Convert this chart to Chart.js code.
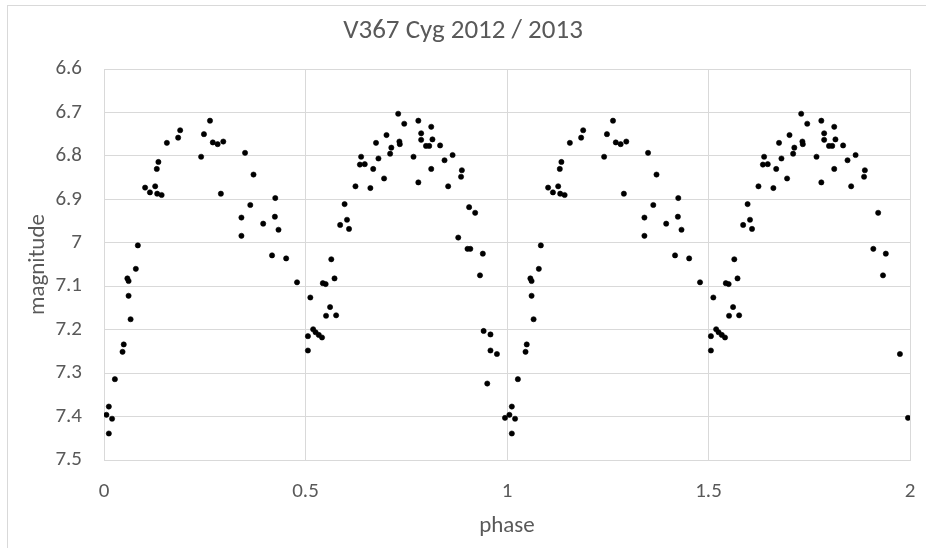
<!DOCTYPE html>
<html lang="en">
<head>
    <meta charset="UTF-8">
    <title>V367 Cyg 2012 / 2013</title>
    <script src="https://cdn.jsdelivr.net/npm/chart.js"></script>
    <style>
        html, body { margin: 0; padding: 0; background: #fff; }
        canvas { display: block; }
    </style>
</head>
<body>
    <canvas id="lightCurve" width="926" height="548"></canvas>
    <script>
        // first cycle, phase 0 .. 1
        const phaseA = [
            0.263, 0.189, 0.184, 0.248, 0.156, 0.270, 0.282, 0.296, 0.241, 0.350,
            0.135, 0.131, 0.371, 0.102, 0.114, 0.127, 0.132, 0.143, 0.290, 0.425,
            0.363, 0.341, 0.424, 0.395, 0.433, 0.341, 0.084, 0.417, 0.452, 0.079,
            0.058, 0.061, 0.061, 0.066, 0.479, 0.049, 0.046, 0.027, 0.012, 0.006,
            0.020, 0.012,
            0.730, 0.745, 0.780, 0.812, 0.787, 0.787, 0.815, 0.799, 0.807, 0.834,
            0.701, 0.733, 0.734, 0.675, 0.713, 0.710, 0.638, 0.681, 0.768, 0.865,
            0.845, 0.635, 0.647, 0.668, 0.812, 0.888, 0.695, 0.780, 0.886, 0.624,
            0.661, 0.854, 0.597, 0.906, 0.921, 0.603, 0.586, 0.608, 0.879, 0.902,
            0.909, 0.940, 0.933, 0.564, 0.543, 0.550, 0.572, 0.512, 0.561, 0.551,
            0.576, 0.506, 0.519, 0.525, 0.533, 0.541, 0.506, 0.942, 0.959, 0.959,
            0.975, 0.951, 0.995
        ];
        const magA = [
            6.719, 6.741, 6.758, 6.750, 6.770, 6.769, 6.773, 6.767, 6.802, 6.793,
            6.814, 6.830, 6.843, 6.873, 6.884, 6.870, 6.887, 6.890, 6.887, 6.897,
            6.913, 6.942, 6.940, 6.956, 6.970, 6.984, 7.006, 7.029, 7.036, 7.060,
            7.082, 7.088, 7.122, 7.176, 7.091, 7.234, 7.251, 7.314, 7.377, 7.396,
            7.405, 7.439,
            6.703, 6.726, 6.719, 6.733, 6.748, 6.763, 6.762, 6.777, 6.777, 6.776,
            6.752, 6.767, 6.773, 6.770, 6.781, 6.795, 6.802, 6.806, 6.802, 6.798,
            6.810, 6.820, 6.819, 6.830, 6.830, 6.833, 6.852, 6.861, 6.848, 6.870,
            6.874, 6.870, 6.911, 6.918, 6.931, 6.947, 6.959, 6.968, 6.988, 7.014,
            7.014, 7.025, 7.075, 7.038, 7.093, 7.095, 7.082, 7.126, 7.148, 7.168,
            7.167, 7.215, 7.199, 7.206, 7.212, 7.218, 7.248, 7.203, 7.211, 7.248,
            7.256, 7.324, 7.403
        ];

        // second cycle, phase 1 .. 2
        const phaseB = [
            1.263, 1.189, 1.184, 1.248, 1.156, 1.270, 1.282, 1.296, 1.241, 1.350,
            1.135, 1.131, 1.371, 1.102, 1.114, 1.127, 1.132, 1.143, 1.290, 1.425,
            1.363, 1.341, 1.424, 1.395, 1.433, 1.341, 1.084, 1.417, 1.452, 1.079,
            1.058, 1.061, 1.061, 1.066, 1.479, 1.049, 1.046, 1.027, 1.012, 1.006,
            1.020, 1.012,
            1.730, 1.745, 1.780, 1.812, 1.787, 1.787, 1.815, 1.799, 1.807, 1.834,
            1.701, 1.733, 1.734, 1.675, 1.713, 1.710, 1.638, 1.681, 1.768, 1.865,
            1.845, 1.635, 1.647, 1.668, 1.812, 1.888, 1.695, 1.780, 1.886, 1.624,
            1.661, 1.854, 1.597, 1.921, 1.603, 1.586, 1.608, 1.909, 1.940, 1.933,
            1.564, 1.543, 1.550, 1.572, 1.512, 1.561, 1.551, 1.576, 1.506, 1.519,
            1.525, 1.533, 1.541, 1.506, 1.975, 1.995
        ];
        const magB = [
            6.719, 6.741, 6.758, 6.750, 6.770, 6.769, 6.773, 6.767, 6.802, 6.793,
            6.814, 6.830, 6.843, 6.873, 6.884, 6.870, 6.887, 6.890, 6.887, 6.897,
            6.913, 6.942, 6.940, 6.956, 6.970, 6.984, 7.006, 7.029, 7.036, 7.060,
            7.082, 7.088, 7.122, 7.176, 7.091, 7.234, 7.251, 7.314, 7.377, 7.396,
            7.405, 7.439,
            6.703, 6.726, 6.719, 6.733, 6.748, 6.763, 6.762, 6.777, 6.777, 6.776,
            6.752, 6.767, 6.773, 6.770, 6.781, 6.795, 6.802, 6.806, 6.802, 6.798,
            6.810, 6.820, 6.819, 6.830, 6.830, 6.833, 6.852, 6.861, 6.848, 6.870,
            6.874, 6.870, 6.911, 6.931, 6.947, 6.959, 6.968, 7.014, 7.025, 7.075,
            7.038, 7.093, 7.095, 7.082, 7.126, 7.148, 7.168, 7.167, 7.215, 7.199,
            7.206, 7.212, 7.218, 7.248, 7.256, 7.403
        ];

        const phaseTicks = [0, 0.5, 1, 1.5, 2];
        const magTicks = [6.6, 6.7, 6.8, 6.9, 7.0, 7.1, 7.2, 7.3, 7.4, 7.5];

        const FONT = 'Carlito, "Liberation Sans Narrow", "Open Sans", sans-serif';
        const GREY = '#595959';
        const GRID = '#d9d9d9';

        const toPoints = (xs, ys) => xs.map((x, i) => ({ x: x, y: ys[i] }));

        // thin frame around the whole chart
        const chartFrame = {
            id: 'chartFrame',
            beforeDraw(chart) {
                const ctx = chart.ctx;
                ctx.save();
                ctx.fillStyle = '#fff';
                ctx.fillRect(0, 0, chart.width, chart.height);
                ctx.strokeStyle = GRID;
                ctx.lineWidth = 1;
                ctx.strokeRect(7.5, 5.5, chart.width + 20, chart.height + 20);
                ctx.restore();
            }
        };

        const dotStyle = {
            showLine: false,
            pointRadius: 2.6,
            pointBorderWidth: 0.6,
            pointBackgroundColor: '#000',
            pointBorderColor: '#000'
        };

        new Chart(document.getElementById('lightCurve'), {
            type: 'scatter',
            data: {
                datasets: [
                    Object.assign({ label: 'cycle 1', data: toPoints(phaseA, magA) }, dotStyle),
                    Object.assign({ label: 'cycle 2', data: toPoints(phaseB, magB) }, dotStyle)
                ]
            },
            options: {
                responsive: false,
                animation: false,
                devicePixelRatio: 1,
                layout: { padding: { top: 0, left: 16, right: 16, bottom: 0 } },
                plugins: {
                    legend: { display: false },
                    tooltip: { enabled: false },
                    title: {
                        display: true,
                        text: 'V367 Cyg 2012 / 2013',
                        color: GREY,
                        font: { family: FONT, size: 27, weight: 'normal' },
                        padding: { top: 15, bottom: 21.6 }
                    }
                },
                scales: {
                    x: {
                        type: 'linear',
                        min: 0,
                        max: 2,
                        afterBuildTicks: s => { s.ticks = phaseTicks.map(v => ({ value: v })); },
                        afterFit: s => {
                            s.height = 88;
                            // end labels sit inside the side margins already
                            s.paddingLeft = 0;
                            s.paddingRight = 0;
                        },
                        grid: { color: GRID, drawTicks: false },
                        border: { color: GRID },
                        ticks: {
                            color: GREY,
                            padding: 19,
                            font: { family: FONT, size: 21 },
                            callback: v => String(v)
                        },
                        title: {
                            display: true,
                            text: 'phase',
                            color: GREY,
                            font: { family: FONT, size: 23 },
                            padding: { top: 0, bottom: 8 }
                        }
                    },
                    y: {
                        type: 'linear',
                        reverse: true,
                        min: 6.6,
                        max: 7.5,
                        afterBuildTicks: s => { s.ticks = magTicks.map(v => ({ value: v })); },
                        afterFit: s => { s.width = 88; },
                        grid: { color: GRID, drawTicks: false },
                        border: { color: GRID },
                        ticks: {
                            color: GREY,
                            padding: 22,
                            font: { family: FONT, size: 21 },
                            callback: v => String(Number(v.toFixed(1)))
                        },
                        title: {
                            display: true,
                            text: 'magnitude',
                            color: GREY,
                            font: { family: FONT, size: 23 },
                            padding: { top: 8, bottom: 0 }
                        }
                    }
                }
            },
            plugins: [chartFrame]
        });
    </script>
</body>
</html>
